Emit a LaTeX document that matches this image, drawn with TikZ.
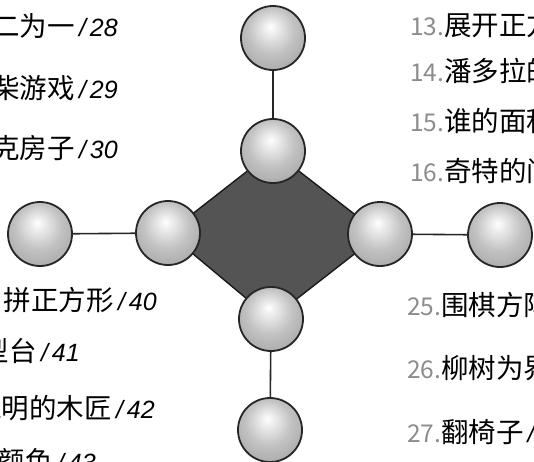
\documentclass[tikz,border=0pt]{standalone}
\usepackage{fontspec}
\setmainfont{Liberation Sans}
\newfontfamily\cjk{Noto Sans CJK SC}
\newfontfamily\numit{Liberation Sans}
\pgfdeclareradialshading{spheresh}{\pgfqpoint{-2bp}{9bp}}{color(0bp)=(white); color(5bp)=(white!93!black); color(18bp)=(black!24); color(30bp)=(black!33); color(50bp)=(black!38)}
\tikzset{
  sphere/.style={circle, minimum size=64pt, inner sep=0pt, draw=black!85, line width=1.8pt, shading=spheresh},
  link/.style={draw=black!85, line width=1.6pt},
  core/.style={fill=black!67, draw=black!90, line width=1.4pt, line join=miter},
  lefttxt/.style={anchor=base east, inner sep=0pt, font=\cjk\fontsize{27.5}{27.5}\selectfont},
  righttxt/.style={anchor=base west, inner sep=0pt, font=\cjk\fontsize{27.5}{27.5}\selectfont}
}
\newcommand{\lnum}[1]{{\numit\itshape\fontsize{25}{25}\selectfont\,/\hspace{4pt}#1}}
\newcommand{\rnum}[1]{{\color{black!45}\fontsize{24.5}{24.5}\selectfont #1.}}
\begin{document}
\begin{tikzpicture}[x=1pt,y=-1pt]
\useasboundingbox (0,0) rectangle (534,461);
\fill[white] (0,0) rectangle (534,461);
\clip (0,0) rectangle (534,461);
% sphere positions
\coordinate (pto) at (273,38);
\coordinate (pti) at (273,151);
\coordinate (plo) at (40,234);
\coordinate (pli) at (168,233);
\coordinate (pri) at (380,234);
\coordinate (pro) at (500,235);
\coordinate (pbi) at (271,319);
\coordinate (pbo) at (270,430);
% core diamond
\path[core] (pti) -- (pri) -- (pbi) -- (pli) -- cycle;
% spheres
\node[sphere] (to) at (pto) {};
\node[sphere] (ti) at (pti) {};
\node[sphere] (lo) at (plo) {};
\node[sphere] (li) at (pli) {};
\node[sphere] (ri) at (pri) {};
\node[sphere] (ro) at (pro) {};
\node[sphere] (bi) at (pbi) {};
\node[sphere] (bo) at (pbo) {};
% connectors
\draw[link] (to) -- (ti);
\draw[link] (lo) -- (li);
\draw[link] (ri) -- (ro);
\draw[link] (bi) -- (bo);
% left labels
\node[lefttxt] (l1) at (118,36) {合二为一\lnum{28}};
\node[lefttxt] (l2) at (118,98) {火柴游戏\lnum{29}};
\node[lefttxt] (l3) at (118,158) {扑克房子\lnum{30}};
\node[lefttxt] (l4) at (157,310) {拼正方形\lnum{40}};
\node[lefttxt] (l5) at (80,361) {模型台\lnum{41}};
\node[lefttxt] (l6) at (155,418) {聪明的木匠\lnum{42}};
\node[lefttxt] (l7) at (96,471) {颜色\lnum{43}};
% right labels
\node[righttxt] (r1) at (410,35) {\rnum{13}展开正方};
\node[righttxt] (r2) at (410,81) {\rnum{14}潘多拉的};
\node[righttxt] (r3) at (410,131) {\rnum{15}谁的面积};
\node[righttxt] (r4) at (410,181) {\rnum{16}奇特的问};
\node[righttxt] (r5) at (407,315) {\rnum{25}围棋方阵};
\node[righttxt] (r6) at (407,378) {\rnum{26}柳树为界};
\node[righttxt] (r7) at (407,442) {\rnum{27}翻椅子\hspace{4pt}{\numit\itshape\fontsize{25}{25}\selectfont /}};
\end{tikzpicture}
\end{document}
